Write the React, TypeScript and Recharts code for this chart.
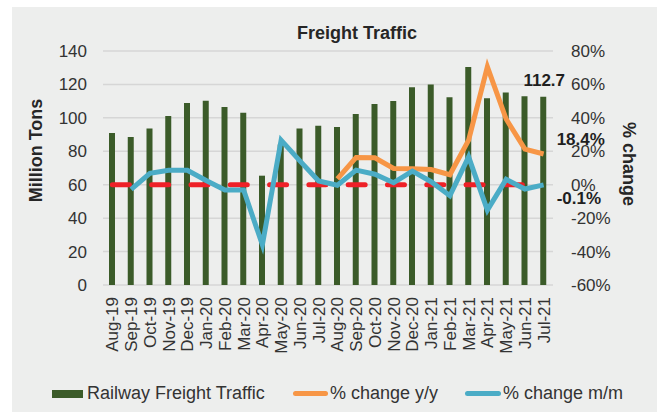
import React from 'react';
import { ComposedChart, Bar, Line, XAxis, YAxis, CartesianGrid, LabelList, Label } from 'recharts';

const months = ['Aug-19','Sep-19','Oct-19','Nov-19','Dec-19','Jan-20','Feb-20','Mar-20','Apr-20','May-20','Jun-20','Jul-20','Aug-20','Sep-20','Oct-20','Nov-20','Dec-20','Jan-21','Feb-21','Mar-21','Apr-21','May-21','Jun-21','Jul-21'];
const freight = [91, 88.5, 93.7, 101.1, 108.9, 110.3, 106.5, 103.1, 65.4, 84, 93.7, 95.3, 94.5, 102.3, 108.3, 110.1, 118.3, 119.9, 112.3, 130.4, 111.7, 115.1, 112.9, 112.7];
const yoy: (number | null)[] = [null, null, null, null, null, null, null, null, null, null, null, null, 3.5, 16.3, 16.1, 9.7, 9.6, 9.1, 6.0, 26.7, 70.5, 39.3, 21.3, 18.4];
const mom: (number | null)[] = [null, -2.8, 6.8, 8.6, 8.6, 2.5, -3.2, -3.2, -36, 26.7, 14.3, 2.2, -0.3, 8.7, 6.3, 1.2, 8.1, 1.8, -6.6, 16.7, -15.2, 3.2, -2.6, -0.1];
const zeroLine = months.map(() => 0);
const leftTicks = [0, 20, 40, 60, 80, 100, 120, 140];
const rightTicks = [-60, -40, -20, 0, 20, 40, 60, 80];

const data = months.map((m, i) => ({ month: m, freight: freight[i], yoy: yoy[i], mom: mom[i], zero: zeroLine[i] }));

const FONT = '"Liberation Sans", Arial, Helvetica, sans-serif';
const GREEN = '#3B5B29';
const ORANGE = '#F79646';
const BLUE = '#4BACC6';
const RED = '#EE2027';
const TXT = '#333333';
const LAST = months.length - 1;

const XTick = (props: any) => {
  const { x, y, payload } = props;
  return (
    <text x={x} y={y} transform={`rotate(-90 ${x} ${y})`} textAnchor="end" dy="0.36em" fontSize={17} fontFamily={FONT} fill={TXT}>
      {payload.value}
    </text>
  );
};

export default function App() {
  return (
    <div style={{ position: 'absolute', left: 0, top: 0, width: 657, height: 416, background: '#FFFFFF', fontFamily: FONT }}>
      <div style={{ position: 'absolute', left: 12, top: 7, width: 645, height: 405, background: '#EDEEED' }} />
      <div style={{ position: 'absolute', left: 0, top: 0 }}>
        <ComposedChart width={657} height={416} data={data} margin={{ top: 51, right: 0, bottom: 0, left: 0 }}>
          <CartesianGrid yAxisId="left" vertical={false} stroke="#D6D6D6" strokeWidth={1.5} />
          <XAxis dataKey="month" interval={0} height={131} axisLine={false} tickLine={false} tickSize={10} tickMargin={2} tick={<XTick />} />
          <YAxis yAxisId="left" width={103} domain={[0, 140]} ticks={leftTicks} axisLine={false} tickLine={false} tickSize={8} tickMargin={8}
            tick={{ fontSize: 17, fill: TXT, fontFamily: FONT }}>
            <Label content={() => (
              <text x={36} y={150.5} transform="rotate(-90 36 150.5)" textAnchor="middle" dominantBaseline="central"
                fontSize={18} fontWeight="bold" fontFamily={FONT} fill="#262626">Million Tons</text>
            )} />
          </YAxis>
          <YAxis yAxisId="right" orientation="right" width={104} domain={[-60, 80]} ticks={rightTicks} axisLine={false} tickLine={false}
            tickSize={10} tickMargin={8} tickFormatter={(v: number) => `${v}%`}
            tick={{ fontSize: 17, fill: TXT, fontFamily: FONT, textAnchor: 'start' }}>
            <Label content={() => (
              <text x={629} y={164} transform="rotate(90 629 164)" textAnchor="middle" dominantBaseline="central"
                fontSize={18} fontWeight="bold" fontFamily={FONT} fill="#262626">% change</text>
            )} />
          </YAxis>
          <Bar yAxisId="left" dataKey="freight" fill={GREEN} barSize={6} isAnimationActive={false}>
            <LabelList dataKey="freight" content={(p: any) => p.index === LAST ? (
              <text x={p.x + p.width / 2 + 1} y={p.y - 11} textAnchor="middle" fontSize={17} fontWeight="bold" fontFamily={FONT} fill="#1F1F1F">{p.value}</text>
            ) : null} />
          </Bar>
          <Line yAxisId="right" dataKey="zero" type="linear" stroke={RED} strokeWidth={5} strokeDasharray="17 22.3" strokeLinecap="round" dot={false} activeDot={false} isAnimationActive={false} />
          <Line yAxisId="right" dataKey="yoy" type="linear" stroke={ORANGE} strokeWidth={5} dot={false} activeDot={false} isAnimationActive={false}>
            <LabelList dataKey="yoy" content={(p: any) => p.index === LAST ? (
              <text x={p.x + 13} y={p.y - 9} textAnchor="start" fontSize={17} fontWeight="bold" fontFamily={FONT} fill="#1F1F1F">{`${p.value}%`}</text>
            ) : null} />
          </Line>
          <Line yAxisId="right" dataKey="mom" type="linear" stroke={BLUE} strokeWidth={5} dot={false} activeDot={false} isAnimationActive={false}>
            <LabelList dataKey="mom" content={(p: any) => p.index === LAST ? (
              <text x={p.x + 13} y={p.y + 19} textAnchor="start" fontSize={17} fontWeight="bold" fontFamily={FONT} fill="#1F1F1F">{`${p.value}%`}</text>
            ) : null} />
          </Line>
        </ComposedChart>
      </div>
      <div style={{ position: 'absolute', left: 257, top: 24, width: 200, textAlign: 'center', fontSize: 18, lineHeight: '18px', fontWeight: 'bold', color: '#262626' }}>
        Freight Traffic
      </div>
      <div style={{ position: 'absolute', left: 52, top: 384, height: 19, display: 'flex', alignItems: 'center', fontSize: 18, color: TXT, whiteSpace: 'nowrap' }}>
        <span style={{ display: 'inline-block', width: 31, height: 8, background: GREEN, marginRight: 4 }} />
        <span>Railway Freight Traffic</span>
      </div>
      <div style={{ position: 'absolute', left: 293, top: 384, height: 19, display: 'flex', alignItems: 'center', fontSize: 18, color: TXT, whiteSpace: 'nowrap' }}>
        <span style={{ display: 'inline-block', width: 35, height: 5, borderRadius: 3, background: ORANGE, marginRight: 2 }} />
        <span>% change y/y</span>
      </div>
      <div style={{ position: 'absolute', left: 465, top: 384, height: 19, display: 'flex', alignItems: 'center', fontSize: 18, color: TXT, whiteSpace: 'nowrap' }}>
        <span style={{ display: 'inline-block', width: 36, height: 5, borderRadius: 3, background: BLUE, marginRight: 2 }} />
        <span>% change m/m</span>
      </div>
    </div>
  );
}
